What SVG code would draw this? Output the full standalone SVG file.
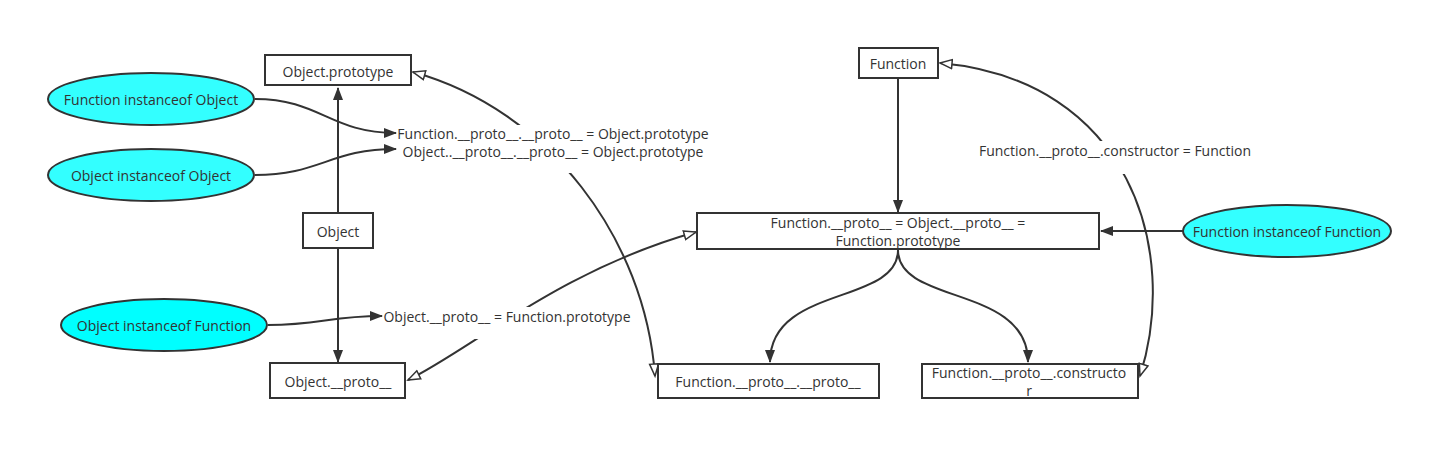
<svg xmlns="http://www.w3.org/2000/svg" width="1451" height="461" viewBox="0 0 1451 461">
<style>
text{font-family:"Open Sans","Noto Sans",sans-serif;font-size:14px;fill:#333;text-anchor:middle;dominant-baseline:central}
.box{fill:#fff;stroke:#333;stroke-width:2}
.ell{stroke:#333;stroke-width:2}
.e{fill:none;stroke:#333;stroke-width:2}
.gap{fill:#fff;stroke:none}
</style>
<defs>
<marker id="fa" markerUnits="userSpaceOnUse" markerWidth="14" markerHeight="12" refX="12" refY="6" orient="auto-start-reverse" viewBox="0 0 14 12">
<path d="M0,1 L13,6 L0,11 Z" fill="#333"/>
</marker>
<marker id="ha" markerUnits="userSpaceOnUse" markerWidth="16" markerHeight="12" refX="13" refY="6" orient="auto-start-reverse" viewBox="0 0 16 12">
<path d="M1,1.5 L13,6 L1,10.5 Z" fill="#fff" stroke="#333" stroke-width="1.5"/>
</marker>
</defs>
<rect width="1451" height="461" fill="#fff"/>
<g id="connectors">
<path class="e" d="M338 213 L338 88" marker-end="url(#fa)"/>
<path class="e" d="M338 248 L338 362" marker-end="url(#fa)"/>
<path class="e" d="M898 78 L898 212" marker-end="url(#fa)"/>
<path class="e" d="M1183 231 L1101 231" marker-end="url(#fa)"/>
<path class="e" d="M898 250 C898 305 770 285 770 362" marker-end="url(#fa)"/>
<path class="e" d="M898 250 C898 305 1028 285 1028 362" marker-end="url(#fa)"/>
<path class="e" d="M655 376 C645 240 550 110 413 72" marker-start="url(#ha)" marker-end="url(#ha)"/>
<path class="e" d="M408 380 C470 350 560 270 696 232" marker-start="url(#ha)" marker-end="url(#ha)"/>
<path class="e" d="M1140 376 C1180 250 1130 80 940 63" marker-start="url(#ha)" marker-end="url(#ha)"/>
<path class="e" d="M255 99 C320 99 330 133 396 133" marker-end="url(#fa)"/>
<path class="e" d="M255 175 C320 175 330 149 396 149" marker-end="url(#fa)"/>
<path class="e" d="M268 325 C320 325 330 316 382 316" marker-end="url(#fa)"/>
<rect class="gap" x="397" y="125" width="314" height="48"/>
<text x="553" y="133">Function.__proto__.__proto__ = Object.prototype</text>
<text x="553" y="151">Object..__proto__.__proto__ = Object.prototype</text>
<rect class="gap" x="383" y="307" width="250" height="32"/>
<text x="507" y="316">Object.__proto__ = Function.prototype</text>
<rect class="gap" x="978" y="141" width="275" height="33"/>
<text x="1115" y="150">Function.__proto__.constructor = Function</text>
</g>
<g id="object-prototype"><rect class="box" x="265" y="55" width="146" height="30"/><text x="338" y="71">Object.prototype</text></g>
<g id="function-instanceof-object"><ellipse class="ell" cx="151" cy="99" rx="103" ry="26" fill="#33ffff"/><text x="151" y="99">Function instanceof Object</text></g>
<g id="object-instanceof-object"><ellipse class="ell" cx="151" cy="175" rx="103" ry="26" fill="#33ffff"/><text x="151" y="175">Object instanceof Object</text></g>
<g id="object"><rect class="box" x="303" y="213" width="70" height="35"/><text x="338" y="231">Object</text></g>
<g id="object-instanceof-function"><ellipse class="ell" cx="164" cy="325" rx="103" ry="26" fill="#00ffff"/><text x="164" y="325">Object instanceof Function</text></g>
<g id="object-proto"><rect class="box" x="270" y="363" width="135" height="35"/><text x="338" y="381">Object.__proto__</text></g>
<g id="function"><rect class="box" x="859" y="48" width="79" height="30"/><text x="898" y="63">Function</text></g>
<g id="function-proto"><rect class="box" x="697" y="213" width="402" height="36"/><text x="898" y="222">Function.__proto__ = Object.__proto__  =</text><text x="898" y="240">Function.prototype</text></g>
<g id="function-instanceof-function"><ellipse class="ell" cx="1287" cy="231" rx="104" ry="26" fill="#33ffff"/><text x="1287" y="231">Function instanceof Function</text></g>
<g id="function-proto-proto"><rect class="box" x="658" y="364" width="221" height="34"/><text x="768" y="381">Function.__proto__.__proto__</text></g>
<g id="function-proto-constructor"><rect class="box" x="922" y="364" width="216" height="34"/><text x="1029" y="372">Function.__proto__.constructo</text><text x="1029" y="390">r</text></g>
</svg>
